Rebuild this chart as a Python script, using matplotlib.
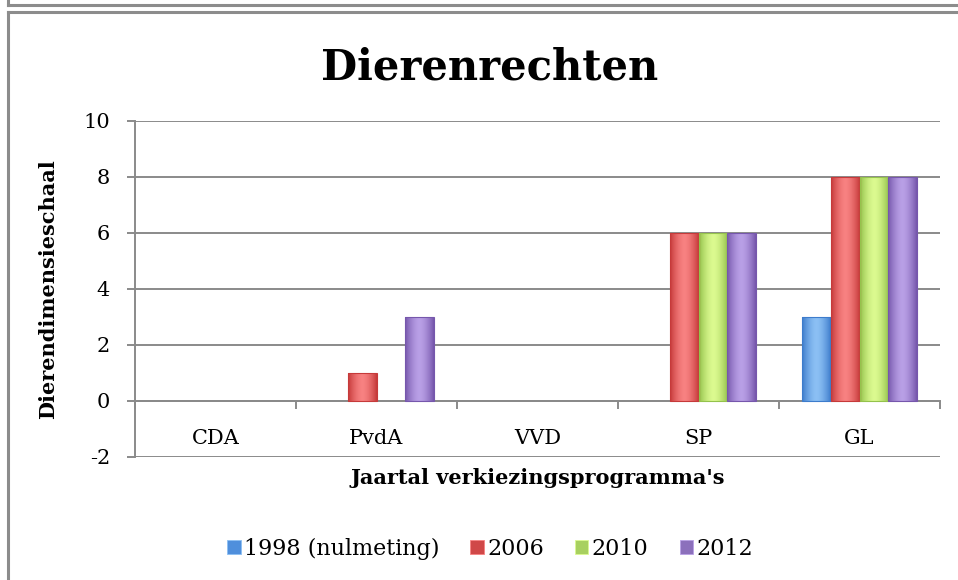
import numpy as np
import matplotlib
matplotlib.use('Agg')
import matplotlib.pyplot as plt
from matplotlib.lines import Line2D
from matplotlib.patches import Patch
from matplotlib.colors import to_rgb

# data
parties = ['CDA', 'PvdA', 'VVD', 'SP', 'GL']
years = ['1998 (nulmeting)', '2006', '2010', '2012']
scores = {
    '1998 (nulmeting)': [0, 0, 0, 0, 3],
    '2006': [0, 1, 0, 6, 8],
    '2010': [0, 0, 0, 6, 8],
    '2012': [0, 3, 0, 6, 8],
}
yticks = [-2, 0, 2, 4, 6, 8, 10]

# (edge colour, centre colour, legend colour) per series
shades = [('#3d7ccc', '#8cc0f4', '#4f8fdc'), ('#c63a3a', '#f88282', '#d04848'),
          ('#94c24c', '#dcfa90', '#a8d060'), ('#7657ac', '#b9a0e6', '#8c70bc')]

plt.rcParams['font.family'] = ['DejaVu Serif']
grid_c = '#8a8a8a'

fig = plt.figure(figsize=(9.58, 5.8), dpi=100)
ax = fig.add_axes([135/958, 1-457/580, 805/958, 336/580])

X = np.arange(len(parties))
w = 0.18
for i, yr in enumerate(years):
    edge, mid, _ = shades[i]
    c0, c1 = np.array(to_rgb(edge)), np.array(to_rgb(mid))
    t = np.abs(np.linspace(-1, 1, 64)) ** 1.6
    grad = (c1[None, :] * (1 - t[:, None]) + c0[None, :] * t[:, None])[None, :, :]
    bars = ax.bar(X + (i - 1.5) * w, scores[yr], width=w, color='none',
                  edgecolor=edge, linewidth=0.8, zorder=4)
    for b in bars:
        if b.get_height() == 0:
            b.set_visible(False)
            continue
        x0, y0 = b.get_x(), b.get_y()
        im = ax.imshow(grad, extent=[x0, x0 + b.get_width(), y0, y0 + b.get_height()],
                       aspect='auto', zorder=3.5, interpolation='bilinear')
        im.set_clip_path(b)

ax.set_xlim(-0.5, 4.5)
ax.set_ylim(-2, 10)
ax.set_yticks(yticks)
ax.set_yticklabels([str(v) for v in yticks])
ax.yaxis.grid(True, color=grid_c, linewidth=1.4, zorder=1)
ax.set_axisbelow(True)

for s in ['top', 'right']:
    ax.spines[s].set_visible(False)
ax.spines['left'].set_color(grid_c)
ax.spines['left'].set_linewidth(1.4)
ax.spines['bottom'].set_position(('data', 0))
ax.spines['bottom'].set_color(grid_c)
ax.spines['bottom'].set_linewidth(1.4)

ax.set_xticks(X)
ax.set_xticklabels(parties)
ax.set_xticks(np.arange(-0.5, 5, 1), minor=True)
ax.tick_params(axis='x', which='major', length=0, pad=20, labelsize=15)
ax.tick_params(axis='x', which='minor', length=6, color=grid_c, width=1.4)
ax.tick_params(axis='y', length=6, color=grid_c, width=1.4, pad=12, labelsize=15)

ax.set_ylabel('Dierendimensieschaal', fontsize=15, fontweight='bold')
ax.yaxis.set_label_coords(-0.096, 0.5)
ax.set_xlabel("Jaartal verkiezingsprogramma's", fontsize=15, fontweight='bold')
ax.xaxis.set_label_coords(0.5, -0.062)
ax.xaxis.label.set_va('center')

fig.text(490/958, 1-67/580, 'Dierenrechten', fontsize=30, fontweight='bold',
         ha='center', va='center')

handles = [Patch(facecolor=shades[i][2], edgecolor=shades[i][1], linewidth=0.6)
           for i in range(len(years))]
fig.legend(handles, years, loc='center', bbox_to_anchor=(490/958, 1-549/580),
           ncol=4, frameon=False, fontsize=16, handlelength=0.6, handleheight=0.6,
           handletextpad=0.15, columnspacing=1.4, borderpad=0)

# chart box borders
bc = '#8c8c8c'
for ln in [([8/958, 1], [1-5/580, 1-5/580]), ([8/958, 8/958], [1, 1-5/580]),
           ([8/958, 1], [1-12/580, 1-12/580]), ([8/958, 8/958], [1-12/580, 0])]:
    fig.add_artist(Line2D(ln[0], ln[1], color=bc, linewidth=2.2))

fig.savefig('out.png', dpi=100)
